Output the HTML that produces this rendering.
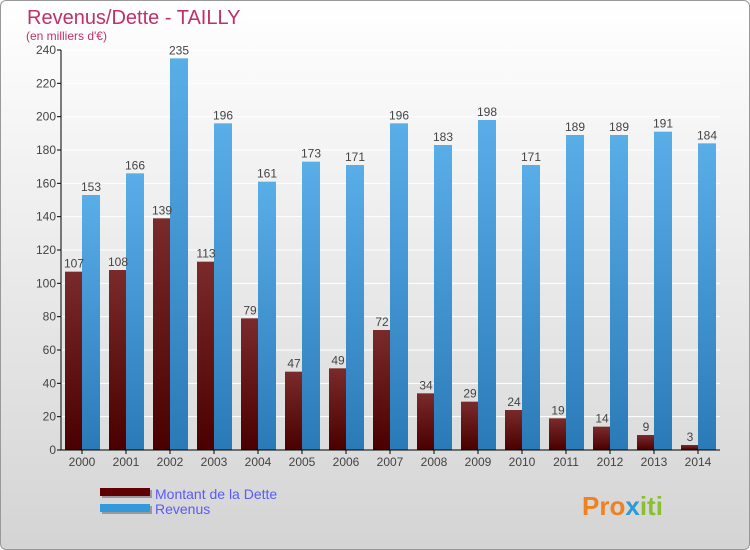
<!DOCTYPE html>
<html><head><meta charset="utf-8"><style>
html,body{margin:0;padding:0}
body{width:750px;height:550px;overflow:hidden;font-family:"Liberation Sans",sans-serif}
#frame{position:absolute;left:0;top:0;width:748px;height:548px;border:1px solid #999;border-radius:6px;background:linear-gradient(#ffffff,#d4d4d4)}
</style></head><body>
<div id="frame"></div>
<svg id="chart" width="750" height="550" style="position:absolute;left:0;top:0">
<defs>
<linearGradient id="gd" x1="0" y1="0" x2="0" y2="1"><stop offset="0" stop-color="#7a2a2a"/><stop offset="1" stop-color="#4a0000"/></linearGradient>
<linearGradient id="gr" x1="0" y1="0" x2="0" y2="1"><stop offset="0" stop-color="#5aaee8"/><stop offset="1" stop-color="#2a7ab8"/></linearGradient>
</defs>
<text x="27" y="24" font-size="20" fill="#c0306a">Revenus/Dette - TAILLY</text>
<text x="26" y="40" font-size="12" fill="#c0306a">(en milliers d'€)</text>
<g id="grid"></g><g id="bars"></g><g id="axes"></g>
<g>
<rect x="102" y="490" width="50" height="8" fill="#999"/><rect x="100" y="488" width="50" height="8" fill="#600000"/>
<text x="155" y="499" font-size="14" fill="#5a5aff">Montant de la Dette</text>
<rect x="102" y="506" width="50" height="8" fill="#999"/><rect x="100" y="504" width="50" height="8" fill="#3399dd"/>
<text x="155" y="514" font-size="14" fill="#5a5aff">Revenus</text>
</g>
<text x="582" y="515" font-size="26" font-weight="bold" fill="#f08020">Pro<tspan fill="#2a9ad8">x</tspan><tspan fill="#8ac030">iti</tspan></text>
</svg>
<script>
const years=["2000","2001","2002","2003","2004","2005","2006","2007","2008","2009","2010","2011","2012","2013","2014"];
const dette=[107,108,139,113,79,47,49,72,34,29,24,19,14,9,3];
const revenus=[153,166,235,196,161,173,171,196,183,198,171,189,189,191,184];
const yTicks=[0,20,40,60,80,100,120,140,160,180,200,220,240];
const NS="http://www.w3.org/2000/svg";
const y0=450,y1=50,vmax=240,x0=61;
const ys=v=>y0-(v/vmax)*(y0-y1);
const xc=i=>83+i*44;
function mk(t,a,p){const e=document.createElementNS(NS,t);for(const k in a)e.setAttribute(k,a[k]);p.appendChild(e);return e;}
const G=document.getElementById('grid'),B=document.getElementById('bars'),A=document.getElementById('axes');
yTicks.forEach(v=>{
 const l=mk('line',{x1:x0,x2:720,y1:ys(v),y2:ys(v),stroke:'#fff','stroke-width':1},G);
 
 
 const t=mk('line',{x1:x0-4,x2:x0,y1:ys(v),y2:ys(v),stroke:'#000'},A);
 
 
 const tx=mk('text',{x:x0-5,y:ys(v)+4,'font-size':12,fill:'#444','text-anchor':'end'},A);
 tx.textContent=v;
 
 
});
years.forEach((yr,i)=>{
 const c=xc(i);
 const d=mk('rect',{x:c-18,y:ys(dette[i]),width:17,height:y0-ys(dette[i]),fill:'url(#gd)'},B);
 
 
 const r=mk('rect',{x:c-1,y:ys(revenus[i]),width:18,height:y0-ys(revenus[i]),fill:'url(#gr)'},B);
 
 
 const dl=mk('text',{x:c-9,y:ys(dette[i])-4,'font-size':12,fill:'#444','text-anchor':'middle'},B);
 dl.textContent=dette[i];
 
 
 const rl=mk('text',{x:c+8,y:ys(revenus[i])-4,'font-size':12,fill:'#444','text-anchor':'middle'},B);
 rl.textContent=revenus[i];
 
 
 const tk=mk('line',{x1:c-1,x2:c-1,y1:y0,y2:y0+4,stroke:'#000'},A);
 
 
 const xl=mk('text',{x:c-1,y:y0+16,'font-size':12,fill:'#444','text-anchor':'middle'},A);
 xl.textContent=yr;
 
 
});
const ya=mk('line',{x1:x0,x2:x0,y1:y1,y2:y0,stroke:'#000'},A);


const xa=mk('line',{x1:x0,x2:720,y1:y0,y2:y0,stroke:'#000'},A);


</script>
</body></html>
